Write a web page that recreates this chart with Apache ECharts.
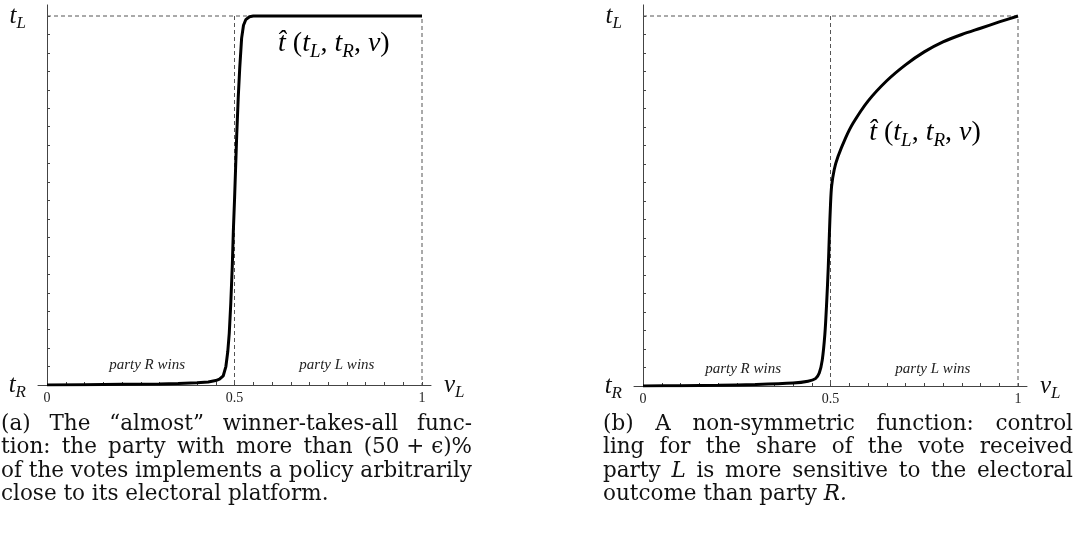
<!DOCTYPE html>
<html>
<head>
<meta charset="utf-8">
<script src="https://cdn.jsdelivr.net/npm/echarts@6/dist/echarts.min.js"></script>
<style>
  html, body { margin: 0; padding: 0; background: #fff; }
  #chart { width: 1073px; height: 538px; }
</style>
</head>
<body>
<div id="chart"></div>
<script>
// (a) almost winner-takes-all, normalised so t_R = 0 and t_L = 1
var leftNu = [0, 0.1, 0.2, 0.3, 0.35, 0.4, 0.43, 0.45, 0.46, 0.47, 0.477, 0.482, 0.486, 0.49, 0.494, 0.497, 0.5, 0.503, 0.506, 0.51, 0.514, 0.519, 0.524, 0.53, 0.54, 0.55, 0.6, 0.7, 0.8, 0.9, 1];
var leftT  = [0, 0.001, 0.002, 0.003, 0.004, 0.006, 0.008, 0.012, 0.016, 0.025, 0.05, 0.09, 0.14, 0.22, 0.32, 0.42, 0.5, 0.59, 0.68, 0.78, 0.86, 0.94, 0.975, 0.99, 0.998, 1, 1, 1, 1, 1, 1];
// (b) non-symmetric function
var rightNu = [0, 0.1, 0.2, 0.3, 0.4, 0.44, 0.46, 0.47, 0.478, 0.485, 0.49, 0.494, 0.497, 0.5, 0.503, 0.51, 0.52, 0.54, 0.56, 0.6, 0.65, 0.7, 0.75, 0.8, 0.85, 0.9, 0.95, 1];
var rightT  = [0, 0.001, 0.002, 0.004, 0.008, 0.013, 0.02, 0.035, 0.07, 0.14, 0.23, 0.32, 0.41, 0.49, 0.54, 0.585, 0.62, 0.67, 0.71, 0.77, 0.825, 0.868, 0.903, 0.93, 0.95, 0.967, 0.984, 1];

// dashed guides
var guideFrame = [[0, 1], [1, 1], [1, 0]];
var guideMid = [[0.5, 1], [0.5, 0]];

// ticks
var xTicks = [0, 0.05, 0.1, 0.15, 0.2, 0.25, 0.3, 0.35, 0.4, 0.45, 0.5, 0.55, 0.6, 0.65, 0.7, 0.75, 0.8, 0.85, 0.9, 0.95, 1];
var yTicks = [0.05, 0.1, 0.15, 0.2, 0.25, 0.3, 0.35, 0.4, 0.45, 0.5, 0.55, 0.6, 0.65, 0.7, 0.75, 0.8, 0.85, 0.9, 0.95, 1];
var xTickLabels = [0, 0.5, 1];
var yTickLabels = [0, 1];

// texts
var regionLabels = ['party R wins', 'party L wins'];
var captionA = [
  '(a) The \u201calmost\u201d winner-takes-all func-',
  'tion: the party with more than (50\u00a0+\u00a0\u03f5)%',
  'of the votes implements a policy arbitrarily',
  'close to its electoral platform.'
];
var captionB = [
  '(b) A non-symmetric function: control',
  'ling for the share of the vote received',
  'party L is more sensitive to the electoral',
  'outcome than party R.'
];

var serif = '"Liberation Serif", "DejaVu Serif", serif';
var capFont = '"DejaVu Serif", serif';
var capSize = 21.5;

function zip(a, b) {
  return a.map(function (v, i) { return [v, b[i]]; });
}

function mathStyles(big, small, drop) {
  return {
    t: { fontFamily: serif, fontStyle: 'italic', fontSize: big, color: '#111', lineHeight: big + 2 },
    s: { fontFamily: serif, fontStyle: 'italic', fontSize: small, color: '#111', lineHeight: small + 1, padding: [drop, 0, 0, 0] },
    r: { fontFamily: serif, fontSize: big, color: '#111', lineHeight: big + 2 }
  };
}
var mathRich = mathStyles(25, 17, 15);
var hatRich = mathStyles(28, 19, 16);

function makeX(idx) {
  return {
    type: 'value', gridIndex: idx, min: -0.024, max: 1.024,
    splitLine: { show: false },
    axisLine: { onZero: true, lineStyle: { color: '#444', width: 1 } },
    axisTick: { inside: true, length: 3, customValues: xTicks, lineStyle: { color: '#444' } },
    axisLabel: {
      customValues: xTickLabels, margin: 6, fontFamily: serif, fontSize: 14, color: '#222',
      formatter: function (v) { return String(v); }
    },
    name: '{t|\u03bd}{s|L}', nameLocation: 'end', nameGap: 13,
    nameTextStyle: { rich: mathRich }
  };
}

function makeY(idx) {
  return {
    type: 'value', gridIndex: idx, min: 0, max: 1.03,
    splitLine: { show: false },
    axisLine: { onZero: true, lineStyle: { color: '#444', width: 1 } },
    axisTick: { inside: true, length: 3, customValues: yTicks, lineStyle: { color: '#444' } },
    axisLabel: {
      customValues: yTickLabels, margin: 12,
      formatter: function (v) { return v === 0 ? '{t|t}{s|R}' : '{t|t}{s|L}'; },
      rich: mathRich
    }
  };
}

function guide(data, idx) {
  return {
    type: 'line', xAxisIndex: idx, yAxisIndex: idx, data: data,
    symbol: 'none', silent: true, z: 1,
    lineStyle: { color: '#555', width: 1, type: [4, 3] }
  };
}

function curve(data, idx, smooth) {
  return {
    type: 'line', xAxisIndex: idx, yAxisIndex: idx, data: data,
    symbol: 'none', smooth: smooth, z: 3,
    lineStyle: { color: '#000', width: 3 }
  };
}

var option = {
  backgroundColor: '#fff',
  animation: false,
  grid: [
    { left: 38, top: 1, width: 393, height: 384 },
    { left: 634, top: 1, width: 393, height: 385 }
  ],
  xAxis: [makeX(0), makeX(1)],
  yAxis: [makeY(0), makeY(1)],
  series: [
    guide(guideFrame, 0), guide(guideMid, 0), curve(zip(leftNu, leftT), 0, false),
    guide(guideFrame, 1), guide(guideMid, 1), curve(zip(rightNu, rightT), 1, 0.3)
  ]
};

var myChart = echarts.init(document.getElementById('chart'));
myChart.setOption(option);

// annotations and captions
var ctx = document.createElement('canvas').getContext('2d');
function measure(w, italic) {
  ctx.font = (italic ? 'italic ' : '') + capSize + 'px ' + capFont;
  return ctx.measureText(w).width;
}

function captionEls(lines, x0, width, yc, step) {
  var els = [];
  lines.forEach(function (line, i) {
    var words = line.split(' ');
    var last = i === lines.length - 1;
    var ws = words.map(function (w) { return measure(w, /^[LR]\.?$/.test(w)); });
    var total = ws.reduce(function (a, b) { return a + b; }, 0);
    var gap = last ? measure(' ', false) : (width - total) / (words.length - 1);
    var x = x0;
    words.forEach(function (w, k) {
      var it = /^[LR]\.?$/.test(w);
      els.push({
        type: 'text', x: x, y: yc + i * step, silent: true,
        style: {
          text: w, fill: '#111',
          font: (it ? 'italic ' : '') + capSize + 'px ' + capFont,
          textAlign: 'left', align: 'left', textVerticalAlign: 'middle', verticalAlign: 'middle'
        }
      });
      x += ws[k] + gap;
    });
  });
  return els;
}

function textAt(grid, pos, text, style) {
  var p = myChart.convertToPixel({ gridIndex: grid }, pos);
  var s = Object.assign({ text: text, textAlign: 'center', align: 'center', textVerticalAlign: 'middle', verticalAlign: 'middle' }, style);
  return { type: 'text', x: p[0], y: p[1], silent: true, style: s };
}

var italicSmall = { font: 'italic 15px ' + serif, fill: '#222' };
var hatText = '{t|t\u0302}{r| (}{t|t}{s|L}{r|, }{t|t}{s|R}{r|, }{t|\u03bd}{r|)}';

var graphics = [
  textAt(0, [0.267, 0.054], regionLabels[0], italicSmall),
  textAt(0, [0.773, 0.054], regionLabels[1], italicSmall),
  textAt(1, [0.267, 0.047], regionLabels[0], italicSmall),
  textAt(1, [0.773, 0.047], regionLabels[1], italicSmall),
  textAt(0, [0.765, 0.925], hatText, { rich: hatRich }),
  textAt(1, [0.752, 0.684], hatText, { rich: hatRich })
];
graphics = graphics.concat(captionEls(captionA, 1, 471, 424, 23.5));
graphics = graphics.concat(captionEls(captionB, 603, 470, 424, 23.5));

myChart.setOption({ graphic: graphics });

window.onresize = function () {
  myChart.resize();
};
</script>
</body>
</html>
